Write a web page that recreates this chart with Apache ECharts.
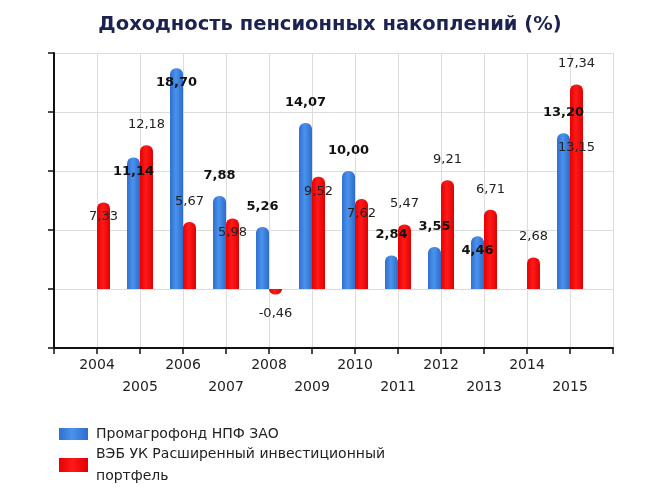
<!DOCTYPE html>
<html>
<head>
<meta charset="utf-8">
<script src="https://cdn.jsdelivr.net/npm/echarts@6/dist/echarts.min.js"></script>
<style>
  html, body { margin: 0; padding: 0; background: #fff; }
  #chart { width: 660px; height: 493px; }
</style>
</head>
<body>
<div id="chart"></div>
<script>
// ---- data ----
const titleText = 'Доходность пенсионных накоплений (%)';
const categories = ['', '2004', '2005', '2006', '2007', '2008', '2009', '2010', '2011', '2012', '2013', '2014', '2015', ''];
const fundName = 'Промагрофонд НПФ ЗАО';
const vebName = 'ВЭБ УК Расширенный инвестиционный портфель';
const fundValues = [null, null, 11.14, 18.70, 7.88, 5.26, 14.07, 10.00, 2.84, 3.55, 4.46, null, 13.20, null];
const vebValues = [null, 7.33, 12.18, 5.67, 5.98, -0.46, 9.52, 7.62, 5.47, 9.21, 6.71, 2.68, 17.34, null];
const extraLabelCategory = '2015';
const extraLabelValue = 13.15;
const yMin = -5, yMax = 20, yStep = 5;

// ---- label placement (style) ----
const fundLabelInside = [false, false, true, true, false, false, false, false, false, false, true, false, false, false];
const vebLabelInside = [false, true, false, false, true, false, true, true, false, false, false, false, false, false];

const fmt = v => v.toFixed(2).replace('.', ',');
const FONT = '"DejaVu Sans", Verdana, sans-serif';

function buildData(values, insideFlags) {
  return values.map((v, i) => {
    if (v === null) return null;
    let pos, dist;
    if (v < 0) { pos = 'bottom'; dist = 13; }
    else if (insideFlags[i]) { pos = 'insideTop'; dist = 8; }
    else { pos = 'top'; dist = 14; }
    return {
      value: v,
      label: { position: pos, distance: dist },
      itemStyle: { borderRadius: v < 0 ? [0, 0, 6, 6] : [6, 6, 0, 0] }
    };
  });
}

const blueGrad = new echarts.graphic.LinearGradient(0, 0, 1, 0, [
  { offset: 0, color: '#2f6fd2' }, { offset: 0.45, color: '#4a93ea' }, { offset: 1, color: '#2c6bcf' }
]);
const redGrad = new echarts.graphic.LinearGradient(0, 0, 1, 0, [
  { offset: 0, color: '#e60000' }, { offset: 0.45, color: '#ff1a1a' }, { offset: 1, color: '#e00000' }
]);

const legendBase = {
  orient: 'vertical',
  left: 59,
  padding: 0,
  itemWidth: 29,
  itemGap: 0,
  icon: 'rect',
  formatter: name => name.replace(' портфель', '\nпортфель'),
  textStyle: { fontFamily: FONT, fontSize: 14, color: '#222', lineHeight: 22, padding: [0, 0, 0, 3] }
};

const chart = echarts.init(document.getElementById('chart'), null, { renderer: 'canvas' });
chart.setOption({
  backgroundColor: '#ffffff',
  animation: false,
  title: {
    text: titleText,
    left: 'center',
    top: 10,
    textStyle: { fontFamily: FONT, fontSize: 19.5, fontWeight: 'bold', color: '#1c2351' }
  },
  legend: [
    Object.assign({}, legendBase, { top: 423, itemHeight: 12, data: [fundName] }),
    Object.assign({}, legendBase, { top: 443, itemHeight: 14, data: [vebName] })
  ],
  grid: { left: 54, right: 47, top: 53, bottom: 145 },
  xAxis: {
    type: 'category',
    data: categories,
    boundaryGap: false,
    axisLine: { onZero: false, lineStyle: { color: '#111', width: 2 } },
    axisTick: { show: true, length: 6, lineStyle: { color: '#111', width: 1.5 } },
    splitLine: { show: true, lineStyle: { color: '#dcdcdc', width: 1 } },
    axisLabel: {
      interval: 0,
      margin: 6,
      fontFamily: FONT,
      fontSize: 14,
      color: '#222',
      lineHeight: 22,
      formatter: v => (v === '' ? '' : (parseInt(v, 10) % 2 === 1 ? '\n' + v : v))
    }
  },
  yAxis: {
    type: 'value',
    min: yMin,
    max: yMax,
    interval: yStep,
    axisLine: { show: true, lineStyle: { color: '#111', width: 2 } },
    axisTick: { show: true, length: 6, lineStyle: { color: '#111', width: 1.5 } },
    axisLabel: { show: false },
    splitLine: { show: true, lineStyle: { color: '#dcdcdc', width: 1 } }
  },
  series: [
    {
      name: fundName,
      type: 'bar',
      barWidth: 13,
      barGap: '0%',
      color: '#3a80e0',
      itemStyle: { color: blueGrad },
      data: buildData(fundValues, fundLabelInside),
      label: {
        show: true,
        fontFamily: FONT,
        fontSize: 13,
        fontWeight: 'bold',
        color: '#111',
        formatter: p => fmt(p.value)
      },
      z: 2
    },
    {
      name: vebName,
      type: 'bar',
      barWidth: 13,
      color: '#f00000',
      itemStyle: { color: redGrad },
      data: buildData(vebValues, vebLabelInside),
      label: {
        show: true,
        fontFamily: FONT,
        fontSize: 13,
        color: '#222',
        formatter: p => fmt(p.value)
      },
      markPoint: {
        symbol: 'circle',
        symbolSize: 1,
        itemStyle: { color: 'rgba(0,0,0,0)' },
        data: [{ coord: [extraLabelCategory, extraLabelValue], value: extraLabelValue }],
        label: {
          show: true,
          position: 'inside',
          offset: [0, 14],
          fontFamily: FONT,
          fontSize: 13,
          color: '#222',
          formatter: p => fmt(p.value)
        }
      },
      z: 2
    }
  ]
});
</script>
</body>
</html>
